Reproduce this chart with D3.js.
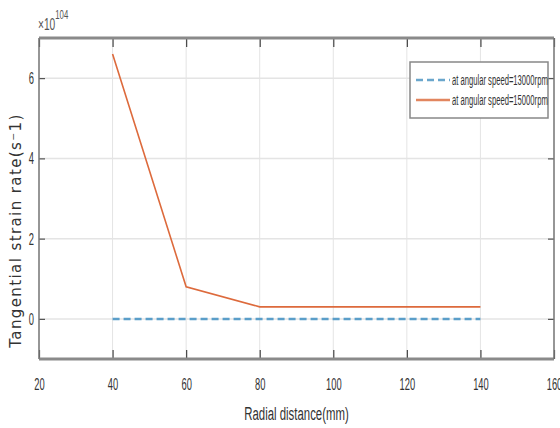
<!DOCTYPE html>
<html>
<head>
<meta charset="utf-8">
<script src="https://cdn.jsdelivr.net/npm/d3@7"></script>
<style>
  body { margin: 0; background: #fff; }
  text { font-family: "Liberation Sans", Arial, sans-serif; }
</style>
</head>
<body>
<svg width="560" height="428"></svg>
<script>
// data (y in units of 10^104 s^-1)
const radius = [40, 60, 80, 100, 120, 140];
const speed13000 = [0, 0, 0, 0, 0, 0];
const speed15000 = [6.6, 0.8, 0.3, 0.3, 0.3, 0.3];
const xTicks = [20, 40, 60, 80, 100, 120, 140, 160];
const yTicks = [0, 2, 4, 6];
const seriesNames = ["at angular speed=13000rpm", "at angular speed=15000rpm"];

const margin = {top: 38, right: 6, bottom: 69, left: 39};
const width = 560 - margin.left - margin.right;
const height = 428 - margin.top - margin.bottom;
const narrow = 0.55; // condensed look of the original font

const svg = d3.select("svg");
const g = svg.append("g").attr("transform", `translate(${margin.left},${margin.top})`);

const x = d3.scaleLinear().domain([20, 160]).range([0, width]);
const y = d3.scaleLinear().domain([-1, 7]).range([height, 0]);

// grid
g.append("g").selectAll("line").data(xTicks).join("line")
  .attr("x1", d => x(d)).attr("x2", d => x(d))
  .attr("y1", 0).attr("y2", height)
  .attr("stroke", "#e4e4e4").attr("stroke-width", 1);
g.append("g").selectAll("line").data(yTicks).join("line")
  .attr("x1", 0).attr("x2", width)
  .attr("y1", d => y(d)).attr("y2", d => y(d))
  .attr("stroke", "#e4e4e4").attr("stroke-width", 1.5);

// bottom axis, ticks point inward
const axisX = d3.axisBottom(x).tickValues(xTicks).tickSize(-9).tickPadding(19);
const gx = g.append("g").attr("transform", `translate(0,${height})`).call(axisX);
gx.select(".domain").remove();
gx.selectAll(".tick line").attr("stroke", "#444").attr("stroke-width", 1.2);
gx.selectAll(".tick text").attr("font-size", 17).attr("fill", "#333")
  .attr("transform", `scale(${narrow},1)`);

// top ticks
const gxt = g.append("g").call(d3.axisTop(x).tickValues(xTicks).tickSize(-9).tickFormat(""));
gxt.select(".domain").remove();
gxt.selectAll(".tick line").attr("stroke", "#444").attr("stroke-width", 1.2);

// left axis
const axisY = d3.axisLeft(y).tickValues(yTicks).tickSize(-6);
const gy = g.append("g").call(axisY);
gy.select(".domain").remove();
gy.selectAll(".tick line").attr("stroke", "#555").attr("stroke-width", 1.2);
gy.selectAll(".tick text").attr("font-size", 17).attr("fill", "#333")
  .attr("x", -5 / narrow)
  .attr("transform", `scale(${narrow},1)`);

// right ticks
const gyr = g.append("g").attr("transform", `translate(${width},0)`)
  .call(d3.axisRight(y).tickValues(yTicks).tickSize(-6).tickFormat(""));
gyr.select(".domain").remove();
gyr.selectAll(".tick line").attr("stroke", "#555").attr("stroke-width", 1.2);

// box
g.append("line").attr("x1", 0).attr("x2", width).attr("y1", 0).attr("y2", 0)
  .attr("stroke", "#8a8a8a").attr("stroke-width", 3);
g.append("line").attr("x1", 0).attr("x2", width).attr("y1", height).attr("y2", height)
  .attr("stroke", "#8a8a8a").attr("stroke-width", 3);
g.append("line").attr("x1", 0).attr("x2", 0).attr("y1", 0).attr("y2", height)
  .attr("stroke", "#777").attr("stroke-width", 1.5);
g.append("line").attr("x1", width).attr("x2", width).attr("y1", 0).attr("y2", height)
  .attr("stroke", "#777").attr("stroke-width", 1.5);

// lines
const line = d3.line().x(d => x(d[0])).y(d => y(d[1]));
g.append("path").datum(d3.zip(radius, speed13000))
  .attr("d", line).attr("fill", "none")
  .attr("stroke", "#5a9ec9").attr("stroke-width", 2.5)
  .attr("stroke-dasharray", "7,4");
g.append("path").datum(d3.zip(radius, speed15000))
  .attr("d", line).attr("fill", "none")
  .attr("stroke", "#dd6a3c").attr("stroke-width", 1.6);

// legend
const lg = g.append("g").attr("transform", `translate(${410 - margin.left},${62 - margin.top})`);
lg.append("rect").attr("width", 138).attr("height", 56)
  .attr("fill", "#fff").attr("stroke", "#888").attr("stroke-width", 1.5);
lg.append("line").attr("x1", 6).attr("x2", 40).attr("y1", 18).attr("y2", 18)
  .attr("stroke", "#6aa6cc").attr("stroke-width", 2.5).attr("stroke-dasharray", "7,4");
lg.append("line").attr("x1", 6).attr("x2", 40).attr("y1", 38).attr("y2", 38)
  .attr("stroke", "#e2865f").attr("stroke-width", 2.5);
lg.selectAll("text.leg").data(seriesNames).join("text").attr("class", "leg")
  .attr("x", 42 / 0.51).attr("y", (d, i) => 23 + i * 20)
  .attr("transform", "scale(0.51,1)")
  .attr("font-size", 15).attr("fill", "#333")
  .text(d => d);

// exponent
const ex = svg.append("text").attr("x", 38 / 0.6).attr("y", 30)
  .attr("transform", "scale(0.6,1)")
  .attr("font-size", 17).attr("fill", "#555");
ex.append("tspan").text("×10");
ex.append("tspan").attr("dy", -11).attr("font-size", 13).text("104");

// axis labels
svg.append("text").attr("x", (margin.left + width / 2) / 0.6).attr("y", 420)
  .attr("transform", "scale(0.6,1)")
  .attr("text-anchor", "middle").attr("font-size", 19).attr("fill", "#333")
  .text("Radial distance(mm)");
svg.append("text")
  .attr("transform", `translate(21,${margin.top + y(3) + 32}) rotate(-90)`)
  .attr("text-anchor", "middle").attr("font-size", 15).attr("fill", "#333")
  .style("font-family", "'DejaVu Sans', sans-serif")
  .attr("letter-spacing", 1.4)
  .text("Tangential strain rate(s⁻1)");
</script>
</body>
</html>
